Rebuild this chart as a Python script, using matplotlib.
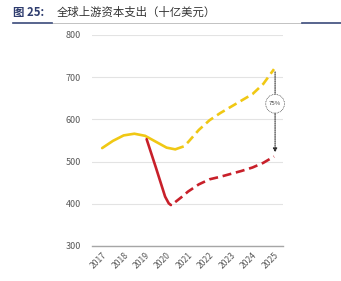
import matplotlib.pyplot as plt
from matplotlib.lines import Line2D

plt.rcParams['font.family'] = ['Noto Sans CJK SC', 'DejaVu Sans']

years = [2017, 2018, 2019, 2020, 2021, 2022, 2023, 2024, 2025]

# 实际值（实线）与预测（虚线），按半年读图
yellow_x = [2017, 2017.5, 2018, 2018.5, 2019, 2019.5, 2020, 2020.4]
yellow_y = [532, 549, 562, 566, 561, 547, 533, 529]
yellow_fx = [2020.4, 2020.8, 2021, 2021.5, 2022, 2022.5, 2023, 2023.5, 2024, 2024.5, 2025]
yellow_fy = [529, 536, 546, 575, 598, 615, 630, 645, 660, 684, 719]

red_x = [2019.07, 2019.5, 2019.93, 2020.1, 2020.2]
red_y = [553, 486, 417, 401, 397]
red_fx = [2020.4, 2020.7, 2021, 2021.5, 2022, 2022.5, 2023, 2023.5, 2024, 2024.5, 2025]
red_fy = [404, 416, 429, 446, 458, 464, 471, 478, 486, 497, 512]

gap_label = '75%'

fig = plt.figure(figsize=(3.41, 2.81), dpi=100)
ax = fig.add_axes([0.270, 0.1246, 0.560, 0.751])

yel = '#f0c814'
red = '#c8202a'
ax.plot(yellow_x, yellow_y, color=yel, lw=1.9, solid_capstyle='round')
ax.plot(yellow_fx, yellow_fy, color=yel, lw=1.9, dashes=(3.4, 1.8))
ax.plot(red_x, red_y, color=red, lw=1.9, solid_capstyle='round')
ax.plot(red_fx, red_fy, color=red, lw=1.9, dashes=(3.4, 1.8))

# 缺口箭头
ax.annotate('', xy=(2025.05, red_fy[-1] + 3), xytext=(2025.05, yellow_fy[-1]),
            arrowprops=dict(arrowstyle='-|>', color='#303030', lw=0.8,
                            linestyle=(0, (1, 1)), mutation_scale=6))
ax.text(2025.05, 637, gap_label, fontsize=4.3, ha='center', va='center', color='#404040',
        bbox=dict(boxstyle='circle,pad=0.55', fc='white', ec='#505050', lw=0.6, ls=(0, (1, 1))))

ax.set_xlim(2016.53, 2025.42)
ax.set_ylim(300, 800)
ax.set_yticks([300, 400, 500, 600, 700, 800])
ax.set_xticks(years)
ax.set_xticklabels([str(y) for y in years], rotation=45, ha='right', va='top',
                   rotation_mode='anchor', fontsize=6.2, color='#595959')
ax.tick_params(axis='y', length=0, pad=8, labelsize=6.5, labelcolor='#595959')
ax.tick_params(axis='x', length=0, pad=3)
ax.grid(axis='y', color='#e3e3e3', lw=0.8)
ax.set_axisbelow(True)
for s in ['top', 'right', 'left']:
    ax.spines[s].set_visible(False)
ax.spines['bottom'].set_color('#a6a6a6')
ax.spines['bottom'].set_linewidth(1.0)

# 标题
fig.text(13 / 341, 1 - 16 / 281, '图 25:', fontsize=8.2, fontweight='bold', color='#2e3c6e',
         ha='left', va='baseline')
fig.text(57 / 341, 1 - 16 / 281, '全球上游资本支出（十亿美元）', fontsize=8.2, color='#333333',
         ha='left', va='baseline')
yl = 1 - 22.5 / 281
fig.add_artist(Line2D([52 / 341, 302 / 341], [yl, yl], color='#b8b8b8', lw=0.6))
fig.add_artist(Line2D([13 / 341, 52 / 341], [yl, yl], color='#3b4a7a', lw=1.2))
fig.add_artist(Line2D([302 / 341, 1], [yl, yl], color='#3b4a7a', lw=1.2))

fig.savefig('out.png', dpi=100)
